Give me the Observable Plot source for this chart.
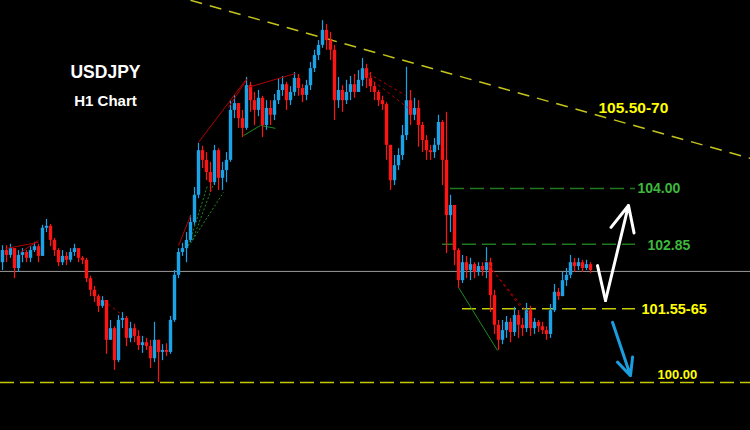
<!DOCTYPE html>
<html><head><meta charset="utf-8">
<script src="https://cdn.jsdelivr.net/npm/d3@7"></script>
<script src="https://cdn.jsdelivr.net/npm/@observablehq/plot@0.6"></script>
<style>html,body{margin:0;padding:0;background:#000;overflow:hidden} svg{display:block}</style>
</head><body><div id="chart"></div>
<script>
// USDJPY H1 candles (bar index, prices)
const firstOpen = 102.47;
const close = [102.72,102.62,102.76,102.35,102.62,102.68,102.56,102.72,102.80,102.60,
103.18,103.22,102.93,102.72,102.47,102.60,102.52,102.68,102.76,102.56,
102.52,102.14,101.90,101.77,101.57,101.69,100.87,101.11,100.45,101.28,
101.32,100.91,101.11,100.95,100.76,100.82,100.74,100.49,100.87,100.62,
100.66,100.62,101.28,102.21,102.68,102.76,102.93,103.30,103.86,104.78,
104.58,104.33,104.12,104.78,104.21,104.37,104.58,105.61,105.75,105.44,
105.24,106.12,105.81,105.61,105.86,105.30,105.65,105.51,105.81,106.02,
106.14,105.81,105.98,106.27,106.06,105.92,106.12,106.47,106.74,106.95,
107.26,107.05,106.85,105.81,106.02,105.81,105.98,106.14,105.98,106.23,
106.47,106.27,106.10,105.98,105.81,105.73,104.89,104.16,104.47,104.68,
105.09,105.81,105.51,105.65,105.30,104.99,104.78,104.74,104.89,105.36,
104.58,103.44,103.65,102.72,102.10,102.47,102.31,102.43,102.27,102.39,
102.31,102.47,101.79,101.18,100.87,101.07,101.24,101.03,101.38,101.18,
101.11,101.48,101.11,101.24,101.15,101.07,100.99,101.48,101.86,101.77,
102.10,102.21,102.47,102.39,102.47,102.35,102.43,102.31];
const high = [102.82,102.82,102.85,102.72,102.72,102.76,102.72,102.80,102.89,102.85,
103.24,103.36,103.26,102.97,102.76,102.72,102.68,102.76,102.85,102.76,
102.60,102.56,102.19,101.98,101.81,101.77,101.69,101.28,101.15,101.38,
101.44,101.36,101.24,101.20,101.07,100.95,100.91,100.87,101.24,100.87,
100.78,100.80,101.36,102.31,102.76,102.87,103.09,103.44,104.02,104.93,
104.87,104.74,104.54,104.89,104.82,104.54,104.74,105.81,105.92,105.73,
105.61,106.29,106.19,105.98,106.02,105.90,105.81,105.81,105.94,106.27,
106.31,106.19,106.10,106.39,106.35,106.14,106.23,106.60,106.85,107.05,
107.46,107.38,107.22,106.95,106.29,106.12,106.23,106.31,106.35,106.43,
106.68,106.56,106.39,106.19,106.02,105.90,105.77,104.89,104.68,104.82,
105.30,106.50,106.02,105.86,105.81,105.36,105.09,104.89,105.03,105.51,
105.40,105.57,103.86,103.65,102.76,102.62,102.60,102.56,102.47,102.47,
102.47,102.78,102.56,101.90,101.28,101.28,101.36,101.32,101.55,101.48,
101.32,101.63,101.57,101.32,101.28,101.24,101.15,101.61,102.02,101.94,
102.27,102.35,102.62,102.56,102.56,102.52,102.52,102.47];
const low = [102.31,102.47,102.56,102.14,102.27,102.47,102.47,102.47,102.68,102.47,
102.60,103.09,102.80,102.60,102.39,102.41,102.41,102.47,102.60,102.47,
102.43,102.06,101.77,101.65,101.44,101.53,100.58,100.87,100.25,100.41,
101.11,100.74,100.82,100.82,100.66,100.60,100.66,100.29,100.41,100.00,
100.45,100.54,100.58,101.24,102.14,102.60,102.47,102.89,103.24,103.79,
104.41,104.16,103.92,104.06,103.96,103.96,104.12,104.54,105.44,105.24,
105.05,105.20,105.57,105.30,105.48,105.05,105.20,105.30,105.40,105.73,
105.90,105.61,105.71,105.90,105.90,105.77,105.81,106.02,106.39,106.64,
106.89,106.85,106.64,105.40,105.65,105.57,105.73,105.81,105.86,105.98,
106.10,106.06,105.98,105.81,105.69,105.61,104.58,103.96,104.06,104.37,
104.58,104.99,105.30,105.40,104.85,104.74,104.58,104.58,104.62,104.78,
104.06,102.66,103.09,102.41,101.94,102.04,102.14,102.10,102.14,102.19,
102.19,102.14,101.44,100.99,100.66,100.78,100.91,100.82,100.95,100.91,
100.95,101.03,100.95,100.99,101.03,100.99,100.87,100.91,101.44,101.69,
101.77,101.98,102.14,102.27,102.31,102.27,102.31,102.25];

// Levels
const currentPrice = 102.29;
const levelLines = [
  {p: 104.00, from: 112, to: 158.25, color: "#1f7a1f"},
  {p: 102.85, from: 110, to: 158.25, color: "#1f7a1f"},
  {p: 101.52, from: 115, to: 158.25, color: "#c8c800"},
  {p: 100.00, from: -0.5, to: 187, color: "#c8c800"}
];
const levelLabels = [
  {text: "104.00", i: 158.75, p: 104.00, color: "#3cb83c", size: 14},
  {text: "102.85", i: 161.25, p: 102.82, color: "#3cb83c", size: 14},
  {text: "101.55-65", i: 159.75, p: 101.50, color: "#ffff00", size: 14.5},
  {text: "100.00", i: 163.75, p: 100.16, color: "#ffff00", size: 13},
  {text: "105.50-70", i: 149, p: 105.65, color: "#ffff00", size: 15.5}
];
const trendLine = [[47, 107.88, 187, 104.62]];
const redLines = [[44,102.82,47,103.44],[49,104.95,60.75,106.23],[56.5,105.67,61.25,106.27],
  [61.25,106.08,73.25,106.37],[0.75,102.76,9,102.89],[4.5,102.68,9,102.93]];
const redDashed = [[25.25,101.69,29.5,101.42],[91.5,106.37,100.75,105.92],[91.5,106.29,101.25,105.67],
  [120.75,102.52,129.5,101.55],[121.5,102.41,131.25,101.44]];
const greenDotted = [[47,102.87,55.25,103.92],[47.5,102.93,52.75,104.10],[46.5,102.82,51.25,104.06]];
const greenLines = [[60.25,105.09,64.5,105.30],[64.5,105.30,68.25,105.24],[114,101.96,123.75,100.66]];
const whiteV = [[148.75,102.41,150.75,101.69]];
const whiteArrow = [[150.75,101.69,156.5,103.65]];
const blueArrow = [[152.5,101.24,157,100.14]];

const BLUE = "#1ba3e8", RED = "#ff1414";
const candles = close.map((c, i) => {
  const o = i === 0 ? firstOpen : close[i - 1];
  return {i, o, c, h: Math.max(high[i], o, c), l: Math.min(low[i], o, c), col: c >= o ? BLUE : RED};
});
const seg = a => a.map(([x1, y1, x2, y2]) => ({x1, y1, x2, y2}));
const F = "Liberation Sans, Arial, sans-serif";

const chart = Plot.plot({
  width: 750, height: 430, margin: 0,
  x: {domain: [-0.5, 187], axis: null},
  y: {domain: [99.01, 107.876], axis: null},
  style: {background: "#000"},
  marks: [
    Plot.ruleY([currentPrice], {stroke: "#9a9a9a", strokeWidth: 1}),
    Plot.link(seg(trendLine), {x1: "x1", y1: "y1", x2: "x2", y2: "y2", stroke: "#c4c41c", strokeWidth: 1.5, strokeDasharray: "12,8"}),
    Plot.ruleY(levelLines, {y: "p", x1: "from", x2: "to", stroke: "color", strokeWidth: 1.5, strokeDasharray: "14,6"}),
    Plot.link(seg(greenDotted), {x1: "x1", y1: "y1", x2: "x2", y2: "y2", stroke: "#1f8a1f", strokeWidth: 1, strokeDasharray: "2,2"}),
    Plot.link(seg(greenLines), {x1: "x1", y1: "y1", x2: "x2", y2: "y2", stroke: "#1f8a1f", strokeWidth: 1}),
    Plot.ruleX(candles, {x: "i", y1: "l", y2: "h", stroke: "col", strokeWidth: 1.2}),
    Plot.ruleX(candles, {x: "i", y1: "o", y2: "c", stroke: "col", strokeWidth: 3.4}),
    Plot.link(seg(redLines), {x1: "x1", y1: "y1", x2: "x2", y2: "y2", stroke: "#b40000", strokeWidth: 1}),
    Plot.link(seg(redDashed), {x1: "x1", y1: "y1", x2: "x2", y2: "y2", stroke: "#b40000", strokeWidth: 1, strokeDasharray: "3,3"}),
    Plot.link(seg(whiteV), {x1: "x1", y1: "y1", x2: "x2", y2: "y2", stroke: "#fff", strokeWidth: 3, strokeLinecap: "round"}),
    Plot.arrow(seg(whiteArrow), {x1: "x1", y1: "y1", x2: "x2", y2: "y2", stroke: "#fff", strokeWidth: 3, headLength: 14, headAngle: 50}),
    Plot.arrow(seg(blueArrow), {x1: "x1", y1: "y1", x2: "x2", y2: "y2", stroke: "#1a9ee0", strokeWidth: 3, headLength: 14, headAngle: 50}),
    Plot.text(levelLabels, {x: "i", y: "p", text: "text", fill: "color", textAnchor: "start", fontWeight: "bold", fontSize: d => d.size, fontFamily: F}),
    Plot.text([{t: "USDJPY", i: 25.75, p: 106.39}], {x: "i", y: "p", text: "t", fill: "#fff", fontWeight: "bold", fontSize: 17.5, fontFamily: F}),
    Plot.text([{t: "H1 Chart", i: 25.75, p: 105.81}], {x: "i", y: "p", text: "t", fill: "#fff", fontWeight: "bold", fontSize: 15, fontFamily: F})
  ]
});
document.getElementById("chart").append(chart);
</script>
</body></html>
